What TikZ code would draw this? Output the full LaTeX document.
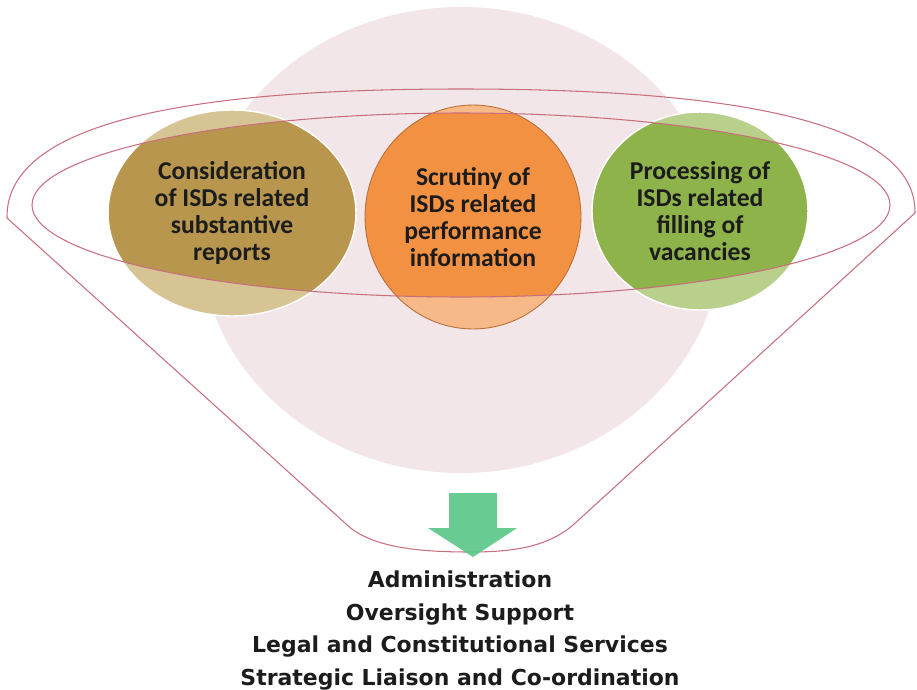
\documentclass[tikz,border=0pt]{standalone}
\usepackage{fontspec}
\setmainfont{Carlito}
\newfontfamily\unitfont{DejaVu Sans}
\usepackage{tikz}
\usetikzlibrary{shapes.geometric}
\usetikzlibrary{positioning}

\definecolor{blush}{HTML}{F3E6E8}
\definecolor{rimline}{HTML}{C86E7D}
\definecolor{oliveDark}{HTML}{B8964E}
\definecolor{oliveLight}{HTML}{D6C494}
\definecolor{orangeDark}{HTML}{F39142}
\definecolor{orangeLight}{HTML}{F6B987}
\definecolor{orangeRim}{HTML}{B8703A}
\definecolor{leafDark}{HTML}{8DB34A}
\definecolor{leafLight}{HTML}{B8D08C}
\definecolor{arrowGreen}{HTML}{5FC88C}
\definecolor{ink}{HTML}{1C1C1C}

\begin{document}
\begin{tikzpicture}
          [x=0.02cm, y=-0.02cm,
           rim/.style={draw=rimline, line width=0.6pt},
           bubble/.style={ellipse, inner sep=0pt, align=center, text=ink,
             font=\bfseries\fontsize{14.6}{15.4}\selectfont},
           band/.style={path picture={
             \clip (bandc) ellipse [x radius=8.58cm, y radius=1.84cm];
             \fill[#1] (path picture bounding box.south west)
               rectangle (path picture bounding box.north east);}},
           unit/.style={inner sep=0pt, text=ink, text height=0.45cm, text depth=0.19cm,
             font=\unitfont\bfseries\fontsize{12.5}{18}\selectfont}]
          \useasboundingbox (0,0) rectangle (917,690);

          \fill[blush] (461,240) ellipse [x radius=260, y radius=233];
          \coordinate (bandc) at (461,205);

          \node (cons) [bubble, fill=oliveLight, band=oliveDark, draw=white, line width=0.8pt,
            minimum width=4.96cm, minimum height=4.12cm] at (232,213)
            {Consideration\\of ISDs related\\substantive\\reports};
          \node (scrut) [bubble, fill=orangeLight, band=orangeDark, draw=orangeRim, line width=0.5pt,
            minimum width=4.32cm, minimum height=4.48cm] at (473,217)
            {Scrutiny of\\ISDs related\\performance\\information};
          \node (proc) [bubble, fill=leafLight, band=leafDark, draw=white, line width=0.8pt,
            minimum width=4.32cm, minimum height=3.96cm] at (700,211)
            {Processing of\\ISDs related\\filling of\\vacancies};

          \draw[rim] (bandc) ellipse [x radius=429, y radius=92];
          \draw[rim] (7,218) .. controls (5,110) and (240,89) .. (461,89)
            .. controls (682,89) and (917,110) .. (915,213)
            -- (572,526) .. controls (545,548) and (510,552) .. (470,552)
            .. controls (420,552) and (370,548) .. (345,523) -- cycle;

          \fill[arrowGreen, opacity=0.95] (449,493) -- (497,493) -- (497,528) -- (517,528)
            -- (473,557) -- (428,528) -- (449,528) -- cycle;

          \node (admin) [unit] at (460,581) {Administration};
          \node (overs) [unit, below = 0pt of admin] {Oversight Support};
          \node (legal) [unit, below = 0pt of overs] {Legal and Constitutional Services};
          \node (strat) [unit, below = 0pt of legal] {Strategic Liaison and Co-ordination};
\end{tikzpicture}
\end{document}
